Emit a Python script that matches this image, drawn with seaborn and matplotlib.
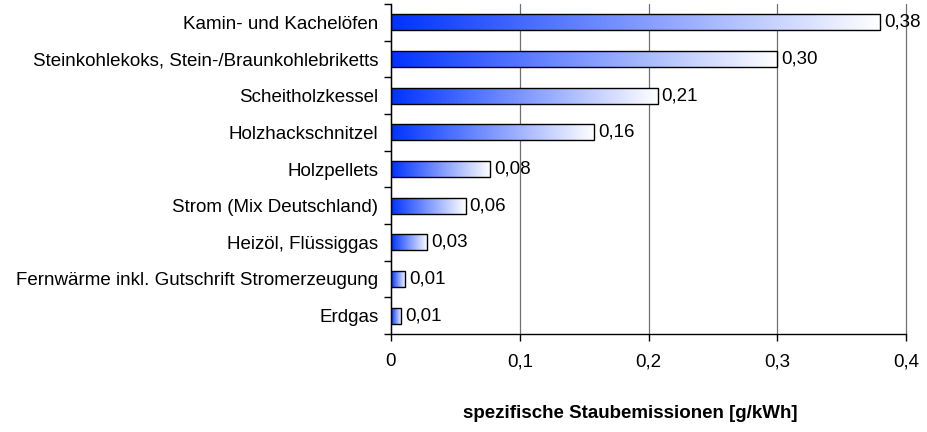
import numpy as np
import pandas as pd
import matplotlib
matplotlib.use("Agg")
import matplotlib.pyplot as plt
import seaborn as sns
from matplotlib.colors import LinearSegmentedColormap
from matplotlib.ticker import FuncFormatter, FixedLocator

# Data
categories = ["Kamin- und Kachelöfen",
              "Steinkohlekoks, Stein-/Braunkohlebriketts",
              "Scheitholzkessel",
              "Holzhackschnitzel",
              "Holzpellets",
              "Strom (Mix Deutschland)",
              "Heizöl, Flüssiggas",
              "Fernwärme inkl. Gutschrift Stromerzeugung",
              "Erdgas"]
values = [0.38, 0.30, 0.207, 0.158, 0.077, 0.058, 0.028, 0.011, 0.008]
value_labels = ["0,38", "0,30", "0,21", "0,16", "0,08", "0,06", "0,03", "0,01", "0,01"]

df = pd.DataFrame({"kategorie": categories, "wert": values})

sns.set_style("white")
plt.rcParams["font.family"] = ["Liberation Sans", "DejaVu Sans"]
plt.rcParams["text.color"] = "black"
plt.rcParams["xtick.color"] = "black"
plt.rcParams["ytick.color"] = "black"
fs = 13.5

fig = plt.figure(figsize=(9.27, 4.32), dpi=100)
ax = fig.add_axes([391 / 927, 1 - 334 / 432, 515 / 927, 330 / 432])

sns.barplot(data=df, x="wert", y="kategorie", orient="h", ax=ax,
            color="white", edgecolor="black", linewidth=1.0, width=0.43,
            saturation=1)

# Gradient fill: blue on the left to white at the bar end
cmap = LinearSegmentedColormap.from_list("blau", ["#0033ff", "#ffffff"])
grad = np.linspace(0, 1, 256).reshape(1, -1)
for p in ax.patches:
    x0, y0 = p.get_x(), p.get_y()
    w, h = p.get_width(), p.get_height()
    ax.imshow(grad, extent=[x0, x0 + w, y0 + h, y0], aspect="auto",
              cmap=cmap, zorder=2, interpolation="bilinear")
    p.set_facecolor("none")
    p.set_zorder(3)

for i, (v, lab) in enumerate(zip(values, value_labels)):
    ax.text(v + 0.003, i, lab, va="center", ha="left", fontsize=fs, zorder=4)

ax.set_xlim(0, 0.4)
ax.set_ylim(len(categories) - 0.5, -0.5)
ax.set_xticks([0, 0.1, 0.2, 0.3, 0.4])
ax.xaxis.set_major_formatter(FuncFormatter(lambda x, pos: "0" if x == 0 else f"{x:.1f}".replace(".", ",")))
ax.xaxis.grid(True, color="#707070", linewidth=0.9)
ax.set_axisbelow(True)

ax.yaxis.set_minor_locator(FixedLocator(np.arange(-0.5, len(categories), 1.0)))
ax.tick_params(axis="y", which="major", length=0, pad=9, labelsize=fs)
ax.tick_params(axis="y", which="minor", length=5, width=1, color="black", left=True)
ax.tick_params(axis="x", which="major", length=5, width=1, color="black",
               bottom=True, pad=9, labelsize=fs)

for s in ["top", "right"]:
    ax.spines[s].set_visible(False)
for s in ["left", "bottom"]:
    ax.spines[s].set_color("black")
    ax.spines[s].set_linewidth(1.0)

ax.set_xlabel("")
ax.set_ylabel("")
fig.text(630 / 927, 1 - 414 / 432, "spezifische Staubemissionen [g/kWh]",
         ha="center", va="center", fontsize=fs, fontweight="bold")

fig.canvas.draw()
for gl in ax.get_xgridlines():
    gl.set_clip_on(False)

fig.savefig("out.png", dpi=100)
